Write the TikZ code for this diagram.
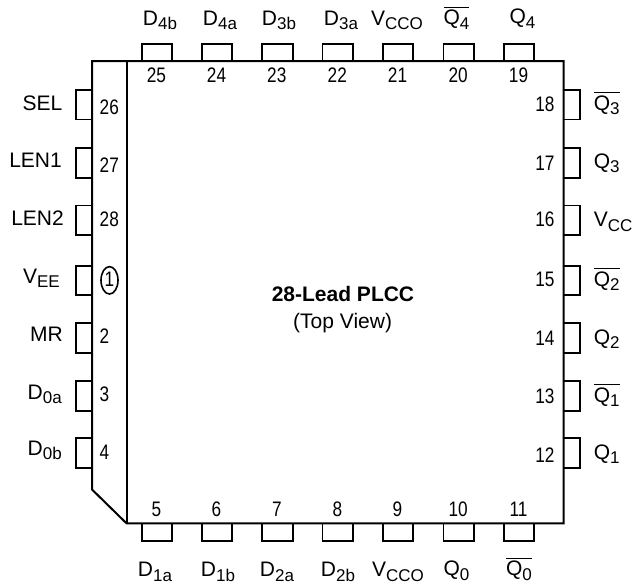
\documentclass[tikz,border=0pt]{standalone}
\usepackage{fontspec}
\setmainfont{Liberation Sans}
\newfontfamily\narrowf[FakeStretch=0.82]{Liberation Sans}
\newcommand{\sbs}[1]{\raisebox{-4.6pt}{\fontsize{17}{18}\selectfont #1}}
\newsavebox{\ovlbox}
\newcommand{\ovl}[1]{\sbox{\ovlbox}{#1}\rlap{\rule[17pt]{\wd\ovlbox}{1pt}}\usebox{\ovlbox}}
\tikzset{
  x=1pt,y=-1pt,
  outline/.style={draw=black,line width=2pt,line join=miter},
  pinbox/.style={draw=black,line width=1.8pt,inner sep=0pt,outer sep=0pt},
  plabel/.style={inner sep=0pt,font=\fontsize{21}{22}\selectfont},
  pnum/.style={inner sep=0pt,font=\narrowf\fontsize{21}{22}\selectfont},
}
\begin{document}
\begin{tikzpicture}
\useasboundingbox (0,0) rectangle (632,587);
% body
\coordinate (tl) at (92,61);
\coordinate (tr) at (563.5,61);
\coordinate (br) at (563.5,523.3);
\coordinate (ch) at (126.5,523.3);
\coordinate (cl) at (92,489.5);
\coordinate (it) at (126.5,61);
\draw[outline] (tl) -- (tr) -- (br) -- (ch) -- (cl) -- cycle;
\draw[outline] (it) -- (ch);
% top and bottom pins
\foreach \n/\x in {25/157,24/217,23/277.3,22/337.8,21/398,20/458.7,19/519}{
  \draw[pinbox] (\x-15.3,61) -- (\x-15.3,44) -- (\x+15.3,44) -- (\x+15.3,61);
  \node[pnum,anchor=base] (n\n) at (\x-0.5,82.3) {\n};
}
\foreach \n/\x in {5/157,6/217,7/277.3,8/337.8,9/398,10/458.7,11/519}{
  \draw[pinbox] (\x-15.3,523.3) -- (\x-15.3,540.7) -- (\x+15.3,540.7) -- (\x+15.3,523.3);
  \node[pnum,anchor=base] (n\n) at (\x-0.5,516.7) {\n};
}
% left pins
\foreach \n/\y in {26/104.7,27/163,28/220.2,1/280.5,2/338,3/396,4/453}{
  \draw[pinbox] (92,\y-14.7) -- (76,\y-14.7) -- (76,\y+14.7) -- (92,\y+14.7);
}
\foreach \n/\y in {26/114,27/172.3,28/226.7,2/343.3,3/401.5,4/459.3}{
  \node[pnum,anchor=base west] (n\n) at (99.5,\y) {\n};
}
\node[pnum,anchor=base] (n1) at (109.5,286.5) {1};
\draw[line width=1.6pt] (109.5,280.3) ellipse [x radius=8.5,y radius=13.7];
% right pins
\foreach \n/\y/\b in {18/104.7/111.7,17/163/170.7,16/220.2/226.7,15/280.5/286,14/338/345,13/396/403,12/453/462.7}{
  \draw[pinbox] (563.5,\y-14.7) -- (579.7,\y-14.7) -- (579.7,\y+14.7) -- (563.5,\y+14.7);
  \node[pnum,anchor=base east] (n\n) at (554.7,\b) {\n};
}
% left labels
\node[plabel,anchor=base east] (sel) at (62.5,110) {SEL};
\node[plabel,anchor=base east] (len1) at (62,167.7) {LEN1};
\node[plabel,anchor=base east] (len2) at (64,225) {LEN2};
\node[plabel,anchor=base east] (vee) at (60,283) {V\sbs{EE}};
\node[plabel,anchor=base east] (mr) at (63,341.7) {MR};
\node[plabel,anchor=base east] (d0a) at (62,399) {D\sbs{0a}};
\node[plabel,anchor=base east] (d0b) at (62,455) {D\sbs{0b}};
% right labels
\node[plabel,anchor=base west] (q3b) at (593.7,110) {\ovl{Q\sbs{3}}};
\node[plabel,anchor=base west] (q3) at (593.7,168) {Q\sbs{3}};
\node[plabel,anchor=base west] (vcc) at (593.7,226.7) {V\sbs{CC}};
\node[plabel,anchor=base west] (q2b) at (593.7,286) {\ovl{Q\sbs{2}}};
\node[plabel,anchor=base west] (q2) at (593.7,344) {Q\sbs{2}};
\node[plabel,anchor=base west] (q1b) at (593.7,402) {\ovl{Q\sbs{1}}};
\node[plabel,anchor=base west] (q1) at (593.7,459) {Q\sbs{1}};
% top labels
\node[plabel,anchor=base] (d4b) at (160,25) {D\sbs{4b}};
\node[plabel,anchor=base] (d4a) at (220,25) {D\sbs{4a}};
\node[plabel,anchor=base] (d3b) at (279,25) {D\sbs{3b}};
\node[plabel,anchor=base] (d3a) at (341,25) {D\sbs{3a}};
\node[plabel,anchor=base] (vcco) at (397,25) {V\sbs{CCO}};
\node[plabel,anchor=base] (q4b) at (456.5,24.5) {\ovl{Q\sbs{4}}};
\node[plabel,anchor=base] (q4) at (522.5,23.5) {Q\sbs{4}};
% bottom labels
\node[plabel,anchor=base] (d1a) at (155,576.7) {D\sbs{1a}};
\node[plabel,anchor=base] (d1b) at (218,576.7) {D\sbs{1b}};
\node[plabel,anchor=base] (d2a) at (277,576.7) {D\sbs{2a}};
\node[plabel,anchor=base] (d2b) at (338,576.7) {D\sbs{2b}};
\node[plabel,anchor=base] (vcco2) at (398,576.7) {V\sbs{CCO}};
\node[plabel,anchor=base] (q0) at (456.5,575.7) {Q\sbs{0}};
\node[plabel,anchor=base] (q0b) at (519,575.7) {\ovl{Q\sbs{0}}};
% title
\node[plabel,anchor=base,font=\fontsize{21}{22}\selectfont\bfseries] (title) at (343,301.7) {28-Lead PLCC};
\node[plabel,anchor=base] (view) at (342.6,328) {(Top View)};
\end{tikzpicture}
\end{document}
